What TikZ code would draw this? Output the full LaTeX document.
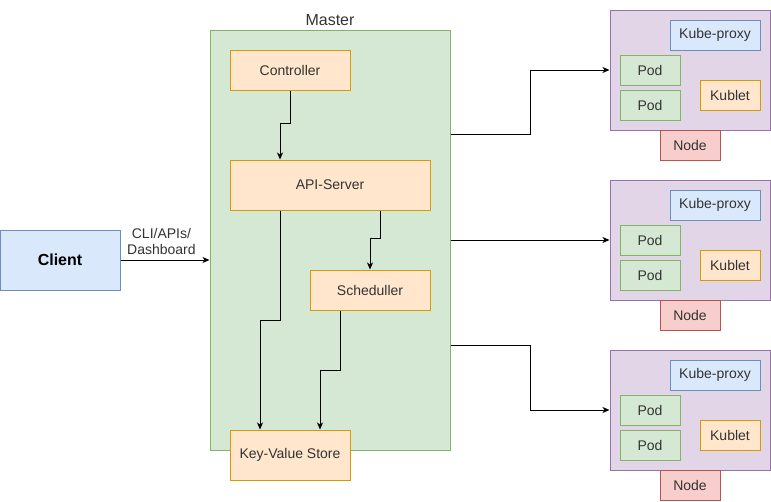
\documentclass[tikz,border=0pt]{standalone}
\usepackage{fontspec}
\setmainfont{Liberation Sans}
\usepackage{tikz}
\usetikzlibrary{calc, arrows.meta}

\definecolor{blueFill}{HTML}{DAE8FC}
\definecolor{blueLine}{HTML}{6C8EBF}
\definecolor{greenFill}{HTML}{D5E8D4}
\definecolor{greenLine}{HTML}{82B366}
\definecolor{orangeFill}{HTML}{FFE6CC}
\definecolor{orangeLine}{HTML}{D79B00}
\definecolor{purpleFill}{HTML}{E1D5E7}
\definecolor{purpleLine}{HTML}{9673A6}
\definecolor{redFill}{HTML}{F8CECC}
\definecolor{redLine}{HTML}{B85450}
\definecolor{txt}{HTML}{333333}

\tikzset{
	box/.style = {draw, rectangle, inner sep=0pt, line width=1pt, text=txt,
		font=\fontsize{14}{16}\selectfont},
	comp/.style = {box, fill=orangeFill, draw=orangeLine},
	pod/.style = {box, fill=greenFill, draw=greenLine, minimum width=60pt, minimum height=30pt},
	arr/.style = {-{Stealth[length=7pt, width=6pt, inset=2pt]}, line width=1pt}
}

\begin{document}
\begin{tikzpicture}[x=1pt, y=-1pt]
		\useasboundingbox (0,0) rectangle (771,501);
		
		%client
		\node [box, fill=blueFill, draw=blueLine, minimum width=120pt, minimum height=60pt,
			font=\fontsize{16}{18}\selectfont\bfseries, text=black] (client) at (60,260) {Client};
		
		%master
		\node [box, fill=greenFill, draw=greenLine, minimum width=240pt, minimum height=420pt] (master) at (330,240) {};
		\node [text=txt, font=\fontsize{16}{18}\selectfont, above, inner sep=4pt] (masterlabel) at (master.north) {Master};
		
		%components of the master
		\node [comp, minimum width=120pt, minimum height=40pt] (ctrl) at (290,70) {Controller};
		\node [comp, minimum width=200pt, minimum height=50pt] (api) at (330,185) {API-Server};
		\node [comp, minimum width=120pt, minimum height=40pt] (sched) at (370,290) {Scheduller};
		\node [comp, minimum width=120pt, minimum height=50pt] (kv) at (290,455) {Key-Value Store};
		
		%client to master
		\draw [arr] (client.east) -- (client.east -| master.west)
			node [pos=0.46, above, align=center, text=txt, inner sep=5pt,
				font=\fontsize{14}{16}\selectfont] (cli) {CLI/APIs/\\Dashboard};
		
		%inside the master
		\draw [arr] (ctrl.south) -- ++(0,33) -| ([xshift=-50pt]api.north);
		\draw [arr] ([xshift=50pt]api.south) -- ++(0,28) -| (sched.north);
		\draw [arr] ([xshift=-50pt]api.south) -- ++(0,110) -| ([xshift=-30pt]kv.north);
		\draw [arr] ([xshift=-30pt]sched.south) -- ++(0,60) -| ([xshift=30pt]kv.north);
		
		%worker nodes
		\foreach \i/\y in {1/10, 2/180, 3/350} {
			\node [box, fill=purpleFill, draw=purpleLine, minimum width=160pt, minimum height=120pt] (n\i) at (690,{\y+60}) {};
			\node [box, fill=blueFill, draw=blueLine, minimum width=90pt, minimum height=30pt] (proxy\i) at (715,{\y+25}) {Kube-proxy};
			\node [pod] (poda\i) at (650,{\y+60}) {Pod};
			\node [pod] (podb\i) at (650,{\y+95}) {Pod};
			\node [comp, minimum width=60pt, minimum height=30pt] (kublet\i) at (730,{\y+85}) {Kublet};
			\node [box, fill=redFill, draw=redLine, minimum width=60pt, minimum height=30pt] (nlabel\i) at (690,{\y+135}) {Node};
		}
		
		%master to nodes
		\coordinate (out1) at ($ (master.north east)!0.25!(master.south east) $);
		\coordinate (out2) at (master.east);
		\coordinate (out3) at ($ (master.north east)!0.75!(master.south east) $);
		
		\draw [arr] (out1) -- ++(80,0) |- (n1.west);
		\draw [arr] (out2) -- (n2.west);
		\draw [arr] (out3) -- ++(80,0) |- (n3.west);
	\end{tikzpicture}
\end{document}
